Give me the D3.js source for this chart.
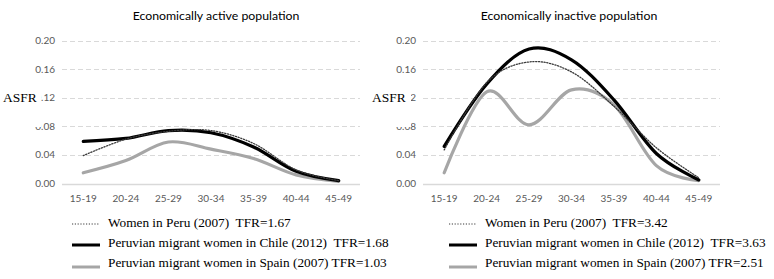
<!DOCTYPE html>
<html>
<head>
<meta charset="utf-8">
<script src="https://cdn.jsdelivr.net/npm/d3@7"></script>
<style>
  body { margin: 0; background: #fff; }
  text { white-space: pre; }
</style>
</head>
<body>
<div id="chart"></div>
<script>
// Data
const ageGroups = ['15-19', '20-24', '25-29', '30-34', '35-39', '40-44', '45-49']
const yTicks = [0, 0.04, 0.08, 0.12, 0.16, 0.20]

const activePeru = [0.039, 0.062, 0.073, 0.074, 0.056, 0.019, 0.004]
const activeChile = [0.059, 0.063, 0.074, 0.071, 0.051, 0.017, 0.004]
const activeSpain = [0.015, 0.032, 0.058, 0.048, 0.035, 0.012, 0.003]

const inactivePeru = [0.047, 0.141, 0.170, 0.156, 0.108, 0.050, 0.008]
const inactiveChile = [0.052, 0.139, 0.188, 0.173, 0.117, 0.042, 0.005]
const inactiveSpain = [0.015, 0.128, 0.082, 0.131, 0.110, 0.025, 0.004]

const activeLegend = [
  'Women in Peru (2007)  TFR=1.67',
  'Peruvian migrant women in Chile (2012)  TFR=1.68',
  'Peruvian migrant women in Spain (2007) TFR=1.03'
]
const inactiveLegend = [
  'Women in Peru (2007)  TFR=3.42',
  'Peruvian migrant women in Chile (2012)  TFR=3.63',
  'Peruvian migrant women in Spain (2007) TFR=2.51'
]

const seriesStyles = [
  { stroke: '#3a3a3a', width: 1.3, dash: '1.2,1.6' },
  { stroke: '#000000', width: 3.2, dash: null },
  { stroke: '#a6a6a6', width: 3.2, dash: null }
]

const svg = d3.select('#chart')
  .append('svg')
  .attr('width', 774)
  .attr('height', 279)

function drawPanel(opts) {
  const g = svg.append('g')

  const xScale = d3.scalePoint()
    .domain(ageGroups)
    .range([opts.left, opts.right])
    .padding(0.5)

  const yScale = d3.scaleLinear()
    .domain([0, 0.20])
    .range([183.5, 40.5])

  // gridlines
  g.append('g')
    .selectAll('line')
    .data(yTicks)
    .join('line')
    .attr('x1', opts.left)
    .attr('x2', opts.right)
    .attr('y1', d => Math.round(yScale(d)) + 0.5)
    .attr('y2', d => Math.round(yScale(d)) + 0.5)
    .attr('stroke', '#d9d9d9')
    .attr('stroke-width', d => d === 0 ? 1.5 : 1)
    .attr('stroke-dasharray', d => d === 0 ? null : '5,3')

  // y labels
  g.append('g')
    .selectAll('text')
    .data(yTicks)
    .join('text')
    .attr('x', opts.left - 7)
    .attr('y', d => yScale(d))
    .attr('dy', '0.35em')
    .attr('text-anchor', 'end')
    .attr('font-family', 'Lato, sans-serif')
    .attr('font-size', 10)
    .attr('fill', '#595959')
    .text(d => d3.format('.2f')(d))

  // x labels
  g.append('g')
    .selectAll('text')
    .data(ageGroups)
    .join('text')
    .attr('x', d => xScale(d))
    .attr('y', 198)
    .attr('dy', '0.35em')
    .attr('text-anchor', 'middle')
    .attr('font-family', 'Lato, sans-serif')
    .attr('font-size', 10)
    .attr('fill', '#595959')
    .text(d => d)

  // title
  g.append('text')
    .attr('x', opts.titleX)
    .attr('y', 20)
    .attr('text-anchor', 'middle')
    .attr('font-family', 'Lato, sans-serif')
    .attr('font-size', 12.3)
    .attr('fill', '#000')
    .text(opts.title)

  // lines
  const line = d3.line()
    .x((d, i) => xScale(ageGroups[i]))
    .y(d => yScale(d))
    .curve(d3.curveCardinal)

  const drawOrder = [2, 1, 0]
  drawOrder.forEach(k => {
    const st = seriesStyles[k]
    g.append('path')
      .datum(opts.series[k])
      .attr('d', line)
      .attr('fill', 'none')
      .attr('stroke', st.stroke)
      .attr('stroke-width', st.width)
      .attr('stroke-dasharray', st.dash)
      .attr('stroke-linecap', 'round')
  })

  // axis title box (covers part of the tick labels, as in the original)
  g.append('rect')
    .attr('x', opts.asfrX - 3)
    .attr('y', 84)
    .attr('width', opts.asfrBoxW)
    .attr('height', 43)
    .attr('fill', '#fff')

  g.append('text')
    .attr('x', opts.asfrX)
    .attr('y', 102)
    .attr('font-family', '"Liberation Serif", serif')
    .attr('font-size', 13.5)
    .attr('fill', '#000')
    .text('ASFR')

  // legend
  const rowsY = [222, 242, 262]
  const sampleY = [224, 245, 267]
  const legend = g.append('g')
  opts.legend.forEach((label, k) => {
    const st = seriesStyles[k]
    legend.append('line')
      .attr('x1', opts.legendX)
      .attr('x2', opts.legendX + 28)
      .attr('y1', sampleY[k])
      .attr('y2', sampleY[k])
      .attr('stroke', st.stroke)
      .attr('stroke-width', k === 0 ? 1 : 3)
      .attr('stroke-dasharray', st.dash)
    legend.append('text')
      .attr('x', opts.legendX + 36)
      .attr('y', rowsY[k])
      .attr('dy', '0.35em')
      .attr('font-family', '"Liberation Serif", serif')
      .attr('font-size', 13.3)
      .attr('fill', '#000')
      .text(label)
  })
}

drawPanel({
  left: 62, right: 360, titleX: 216,
  title: 'Economically active population',
  series: [activePeru, activeChile, activeSpain],
  legend: activeLegend, legendX: 72,
  asfrX: 3, asfrBoxW: 41
})

drawPanel({
  left: 423, right: 720, titleX: 569,
  title: 'Economically inactive population',
  series: [inactivePeru, inactiveChile, inactiveSpain],
  legend: inactiveLegend, legendX: 449,
  asfrX: 372, asfrBoxW: 42
})
</script>
</body>
</html>
